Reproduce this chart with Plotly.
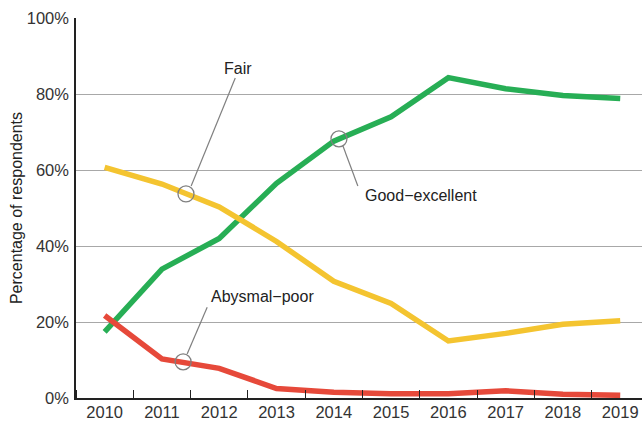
import plotly.graph_objects as go

years = [2010, 2011, 2012, 2013, 2014, 2015, 2016, 2017, 2018, 2019]
good_excellent = [17.4, 33.9, 42.0, 56.5, 67.6, 74.0, 84.3, 81.4, 79.6, 78.8]
fair = [60.7, 56.3, 50.3, 41.2, 30.7, 24.9, 15.0, 17.0, 19.4, 20.3]
abysmal_poor = [21.7, 10.3, 7.8, 2.5, 1.5, 1.1, 1.1, 1.9, 1.0, 0.7]

y_ticks = [0, 20, 40, 60, 80, 100]
y_labels = ["0%", "20%", "40%", "60%", "80%", "100%"]

# callouts: label text, label position, circle position, leader line (from, to)
labels = ["Fair", "Good\u2212excellent", "Abysmal\u2212poor"]
label_x = [2012.33, 2015.52, 2012.75]
label_y = [86.8, 53.2, 26.6]
circle_x = [2011.42, 2014.09, 2011.37]
circle_y = [53.7, 68.2, 9.5]
lead_x0 = [2011.51, 2014.16, 2011.44]
lead_y0 = [55.8, 66.3, 11.6]
lead_x1 = [2012.28, 2014.42, 2011.79]
lead_y1 = [84.2, 55.8, 23.9]

fig = go.Figure()

series = [("Good-excellent", good_excellent, "#27ae55"),
          ("Fair", fair, "#f4c430"),
          ("Abysmal-poor", abysmal_poor, "#e6493a")]
for name, vals, col in series:
    fig.add_trace(go.Scatter(x=years, y=vals, mode="lines", name=name,
                             line=dict(color=col, width=5.5)))

for i in range(len(labels)):
    fig.add_shape(type="line", x0=lead_x0[i], y0=lead_y0[i], x1=lead_x1[i], y1=lead_y1[i],
                  xref="x", yref="y", line=dict(color="#808080", width=1.2))
    fig.add_annotation(x=label_x[i], y=label_y[i], text=labels[i], showarrow=False,
                       font=dict(family="Liberation Sans, Arial", size=16, color="#222"))

fig.add_trace(go.Scatter(x=circle_x, y=circle_y, mode="markers", hoverinfo="skip",
                         marker=dict(symbol="circle-open", size=16, color="#808080",
                                     line=dict(color="#808080", width=1.3))))

tickfont = dict(family="Liberation Sans, Arial", size=16.5, color="#333")

fig.update_xaxes(range=[2009.5, 2019.38], tickvals=years, ticks="", showgrid=False,
                 zeroline=False, showline=True, linecolor="#222", linewidth=1.5,
                 tickfont=tickfont, automargin=False, ticklabelstandoff=-2,
                 minor=dict(ticks="inside", tick0=2010.5, dtick=1, ticklen=8,
                            tickcolor="#222", tickwidth=1.2, showgrid=False))
fig.update_yaxes(range=[0, 100], tickvals=y_ticks, ticktext=y_labels, ticks="",
                 showgrid=True, gridcolor="#a8a8a8", gridwidth=1, zeroline=False,
                 showline=True, linecolor="#222", linewidth=1.5, tickfont=tickfont,
                 automargin=False, ticklabelstandoff=2,
                 title=dict(text="Percentage of respondents", standoff=0,
                            font=dict(family="Liberation Sans, Arial", size=16, color="#222")))

fig.update_layout(width=642, height=427, showlegend=False,
                  plot_bgcolor="white", paper_bgcolor="white",
                  margin=dict(l=76, r=0, t=18, b=29))

# drop the page's default body margin so the figure fills the window exactly
fig.write_html("out.html", config={"displayModeBar": False},
               post_script="document.body.style.margin='0';document.body.style.overflow='hidden';")
